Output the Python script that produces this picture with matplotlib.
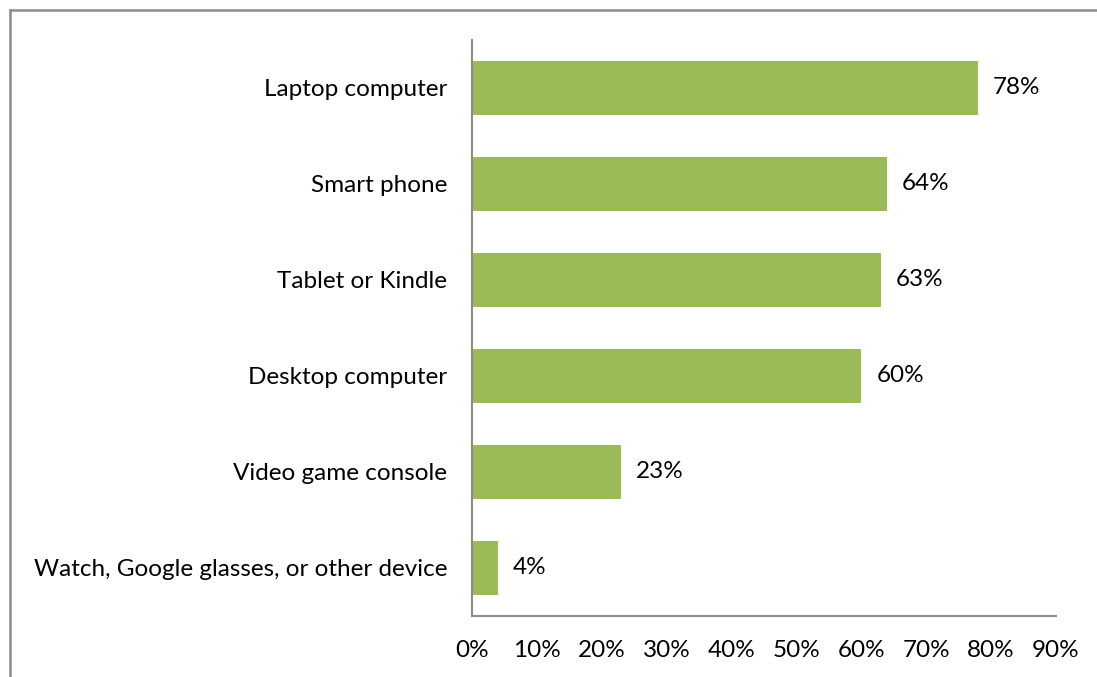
import matplotlib.pyplot as plt
from matplotlib.lines import Line2D

devices = ["Laptop computer", "Smart phone", "Tablet or Kindle", "Desktop computer",
           "Video game console", "Watch, Google glasses, or other device"]
shares = [78, 64, 63, 60, 23, 4]
ticks = [0, 10, 20, 30, 40, 50, 60, 70, 80, 90]

plt.rcParams['font.family'] = ['Lato', 'DejaVu Sans']
fs = 17.5

fig = plt.figure(figsize=(10.97, 6.77), dpi=100)
ax = fig.add_axes([472 / 1097, 1 - 616 / 677, 584 / 1097, 576 / 677])

ypos = list(range(len(devices)))[::-1]
ax.barh(ypos, shares, height=0.57, color='#9BBB59')
for y, v in zip(ypos, shares):
    ax.text(v + 2.3, y, f"{v}%", va='center', ha='left', fontsize=fs)

ax.set_xlim(0, 90)
ax.set_ylim(-0.5, len(devices) - 0.5)
ax.set_xticks(ticks)
ax.set_xticklabels([f"{t}%" for t in ticks], fontsize=fs)
ax.set_yticks(ypos)
ax.set_yticklabels(devices, fontsize=fs)
ax.tick_params(length=0)
ax.tick_params(axis='x', pad=17)
ax.tick_params(axis='y', pad=18)

for s in ['top', 'right']:
    ax.spines[s].set_visible(False)
for s in ['left', 'bottom']:
    ax.spines[s].set_color('#8c8c8c')
    ax.spines[s].set_linewidth(1.5)

# outer frame, left and top edges only
fig.add_artist(Line2D([10 / 1097, 10 / 1097], [0, 1 - 10 / 677], color='#8c8c8c', lw=1.8))
fig.add_artist(Line2D([10 / 1097, 1], [1 - 10 / 677, 1 - 10 / 677], color='#8c8c8c', lw=1.8))

fig.savefig('out.png', dpi=100)
